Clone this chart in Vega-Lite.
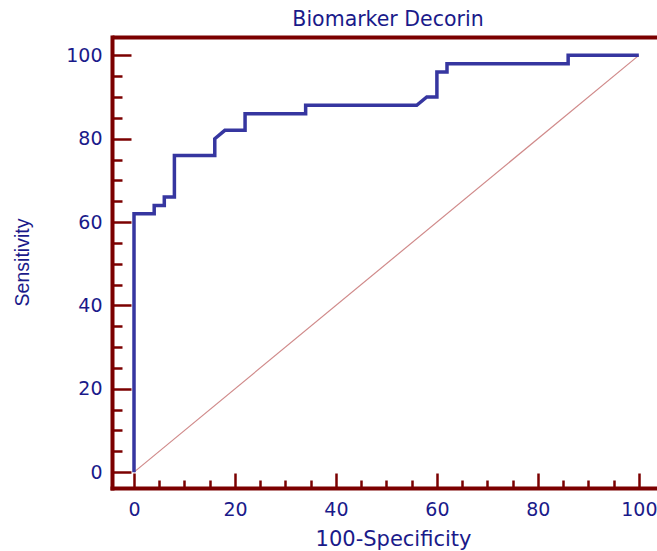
{
  "$schema": "https://vega.github.io/schema/vega-lite/v6.json",
  "width": 545,
  "height": 451,
  "autosize": {"type": "none"},
  "padding": {"left": 112, "top": 37, "right": 0, "bottom": 63},
  "background": "white",
  "view": {"stroke": null},
  "title": {
    "text": "Biomarker Decorin",
    "font": "DejaVu Sans",
    "fontSize": 20.5,
    "fontWeight": "normal",
    "color": "#1a1a8a",
    "anchor": "middle",
    "baseline": "alphabetic",
    "offset": 8,
    "dx": 3.5,
    "dy": 17
  },
  "encoding": {
    "y": {
      "field": "y",
      "type": "quantitative",
      "scale": {"domain": [-3.8, 104.4], "nice": false, "zero": false},
      "axis": {
        "values": [0, 5, 10, 15, 20, 25, 30, 35, 40, 45, 50, 55, 60, 65, 70, 75, 80, 85, 90, 95, 100],
        "grid": false,
        "domainColor": "#7b0000",
        "domainWidth": 4,
        "domainCap": "square",
        "tickColor": "#7b0000",
        "tickWidth": 2.5,
        "tickSize": {"condition": {"test": "datum.value % 20 === 0", "value": -19}, "value": -10},
        "labelExpr": "datum.value % 20 === 0 ? datum.label : ''",
        "labelFont": "DejaVu Sans",
        "labelFontSize": 19,
        "labelColor": "#1a1a8a",
        "labelPadding": 29,
        "labelOverlap": false,
        "labelFlush": false,
        "title": "Sensitivity",
        "titleFont": "Liberation Sans",
        "titleFontSize": 19.5,
        "titleFontWeight": "normal",
        "titleColor": "#1a1a8a",
        "titleAngle": -90,
        "titleX": -84,
        "titleY": 225,
        "titleAlign": "center",
        "titleBaseline": "alphabetic"
      }
    }
  },
  "layer": [
    {
      "data": {"values": [{"x": 0, "y": 0}, {"x": 100, "y": 100}]},
      "mark": {"type": "line", "color": "#d08a8a", "strokeWidth": 1.2},
      "encoding": {
        "x": {
          "field": "x",
          "type": "quantitative",
          "scale": {"domain": [-4.36, 103.6], "nice": false, "zero": false},
          "axis": {
            "orient": "top",
            "domain": true,
            "domainColor": "#7b0000",
            "domainWidth": 4,
            "ticks": false,
            "labels": false,
            "grid": false,
            "title": null,
            "minExtent": 0,
            "maxExtent": 2
          }
        }
      }
    },
    {
      "data": {
        "values": [
          {"i": 1, "x": 0, "y": 0},
          {"i": 2, "x": 0, "y": 62},
          {"i": 3, "x": 4, "y": 62},
          {"i": 4, "x": 4, "y": 64},
          {"i": 5, "x": 6, "y": 64},
          {"i": 6, "x": 6, "y": 66},
          {"i": 7, "x": 8, "y": 66},
          {"i": 8, "x": 8, "y": 76},
          {"i": 9, "x": 16, "y": 76},
          {"i": 10, "x": 16, "y": 80},
          {"i": 11, "x": 18, "y": 82},
          {"i": 12, "x": 22, "y": 82},
          {"i": 13, "x": 22, "y": 86},
          {"i": 14, "x": 34, "y": 86},
          {"i": 15, "x": 34, "y": 88},
          {"i": 16, "x": 56, "y": 88},
          {"i": 17, "x": 58, "y": 90},
          {"i": 18, "x": 60, "y": 90},
          {"i": 19, "x": 60, "y": 96},
          {"i": 20, "x": 62, "y": 96},
          {"i": 21, "x": 62, "y": 98},
          {"i": 22, "x": 86, "y": 98},
          {"i": 23, "x": 86, "y": 100},
          {"i": 24, "x": 100, "y": 100}
        ]
      },
      "mark": {"type": "line", "color": "#3636a0", "strokeWidth": 3.5, "strokeJoin": "miter"},
      "encoding": {
        "order": {"field": "i", "type": "quantitative"},
        "x": {
          "field": "x",
          "type": "quantitative",
          "scale": {"domain": [-4.36, 103.6], "nice": false, "zero": false},
          "axis": {
            "orient": "bottom",
            "values": [0, 5, 10, 15, 20, 25, 30, 35, 40, 45, 50, 55, 60, 65, 70, 75, 80, 85, 90, 95, 100],
            "grid": false,
            "domainColor": "#7b0000",
            "domainWidth": 4,
            "domainCap": "square",
            "tickColor": "#7b0000",
            "tickWidth": 2.5,
            "tickSize": {"condition": {"test": "datum.value % 20 === 0", "value": -15}, "value": -8},
            "labelExpr": "datum.value % 20 === 0 ? datum.label : ''",
            "labelFont": "DejaVu Sans",
            "labelFontSize": 19,
            "labelColor": "#1a1a8a",
            "labelPadding": 27.5,
            "labelOverlap": false,
            "labelFlush": false,
            "title": "100-Specificity",
            "titleFont": "DejaVu Sans",
            "titleFontSize": 21,
            "titleFontWeight": "normal",
            "titleColor": "#1a1a8a",
            "titleX": 281,
            "titleY": 57,
            "titleAlign": "center",
            "titleBaseline": "alphabetic"
          }
        }
      }
    }
  ],
  "resolve": {"axis": {"x": "independent"}}
}
